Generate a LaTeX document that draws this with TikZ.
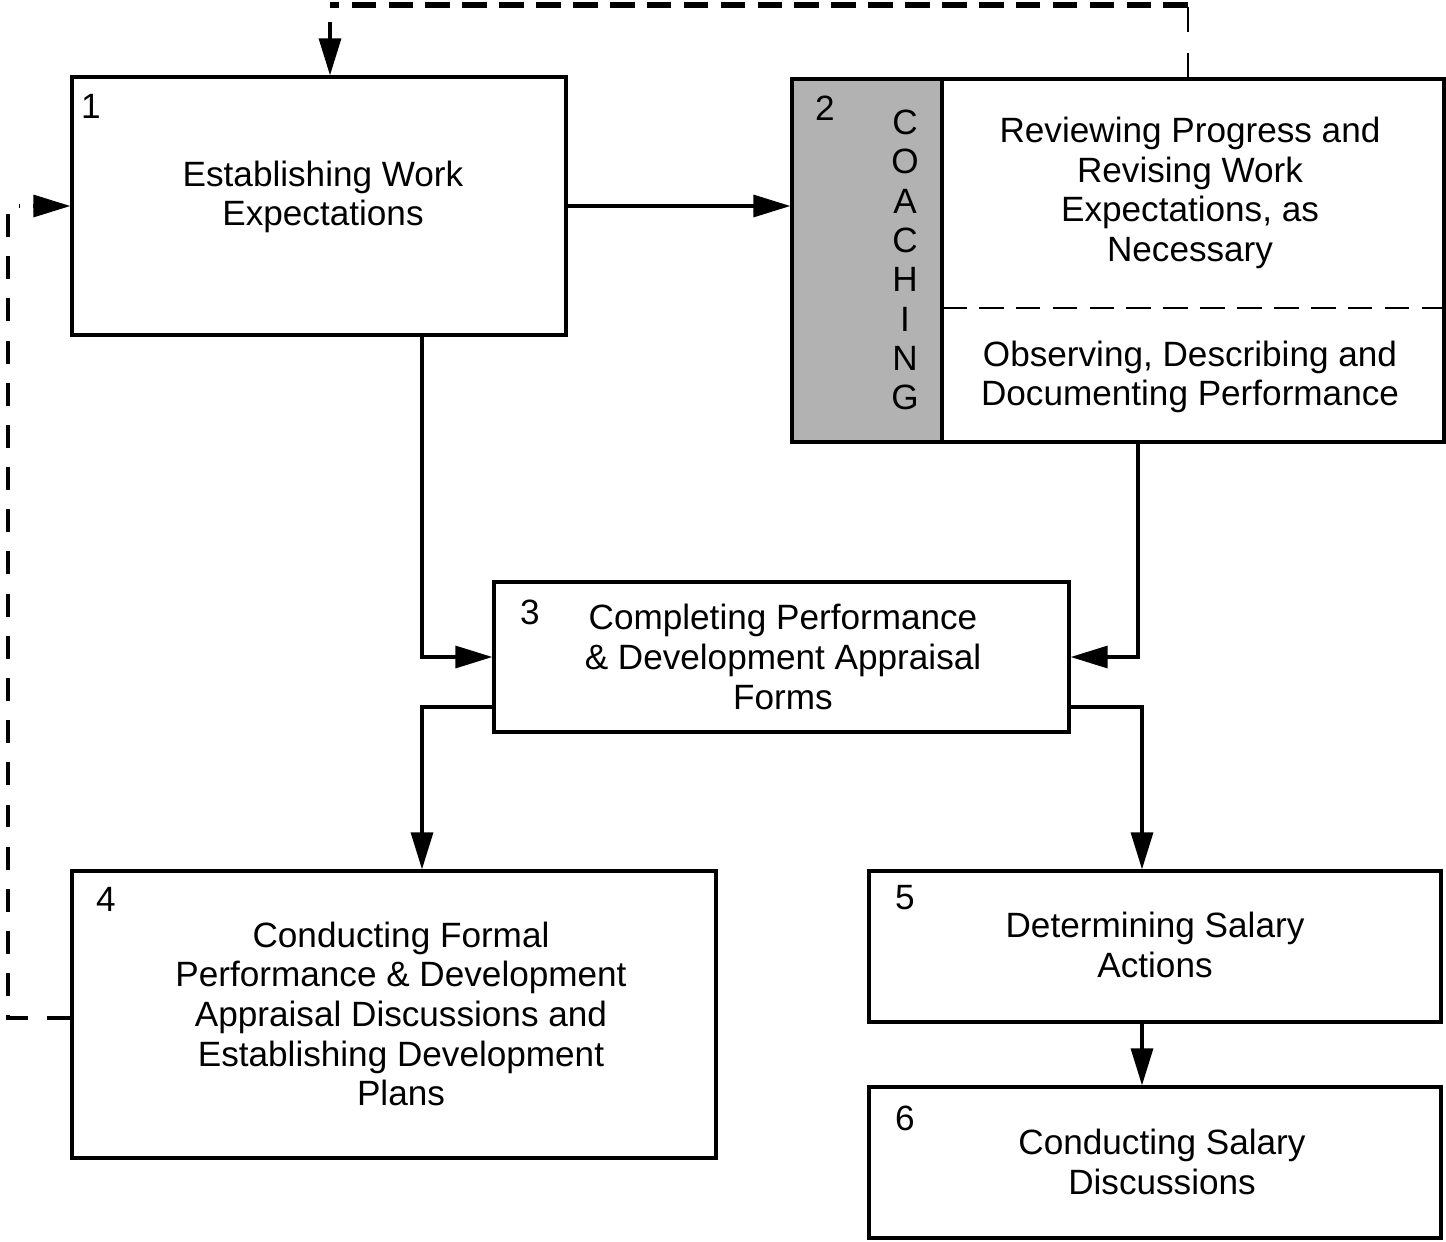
\documentclass[tikz,border=0pt]{standalone}
\usepackage{fontspec}
\setmainfont{Liberation Sans}
\usetikzlibrary{arrows.meta,fit}
\definecolor{coachgray}{RGB}{178,178,178}
\begin{document}
\begin{tikzpicture}[x=0.02cm,y=-0.02cm,
  box/.style={draw, line width=1.9pt, inner sep=0pt},
  lbl/.style={font=\fontsize{20}{22.6}\selectfont, align=center, inner sep=0pt},
  num/.style={font=\fontsize{20}{22.6}\selectfont, inner sep=0pt, anchor=center},
  tip/.style={-{Triangle[length=21pt,width=12.5pt]}},
  conn/.style={line width=1.8pt, tip},
  dashconn/.style={line width=1.9pt, dash pattern=on 13pt off 11pt},
  topdash/.style={line width=3.4pt, dash pattern=on 14pt off 7pt},
  thindash/.style={line width=1.6pt, dash pattern=on 14pt off 12pt},
  divdash/.style={line width=1.6pt, dash pattern=on 14pt off 7pt}]
\useasboundingbox (0,0) rectangle (1446,1241);

% helper coordinates
\coordinate (x1) at (422,0);
\coordinate (x2) at (1138,0);
\coordinate (x3) at (1142,0);
\coordinate (xl) at (8,0);
\coordinate (xe) at (20,0);
\coordinate (xt1) at (330,0);
\coordinate (xt2) at (1188,0);
\coordinate (y3b) at (0,707);
\coordinate (yl) at (0,1018);

% boxes
\node[box, fit={(72,77) (566,335)}] (b1) {};
\node[box, fill=coachgray, fit={(792,79) (942,442)}] (b2g) {};
\node[box, fit={(792,79) (1444,442)}] (b2) {};
\node[box, fit={(494,582) (1069,732)}] (b3) {};
\node[box, fit={(72,871) (716,1158)}] (b4) {};
\node[box, fit={(869,871) (1441,1022)}] (b5) {};
\node[box, fit={(869,1087) (1441,1238)}] (b6) {};

% divider in box 2
\coordinate (d1) at (942,308);
\draw[divdash] (d1) -- (d1 -| b2.east);

% numbers
\node[num] (n1) at (91,106) {1};
\node[num] (n2) at (825,108) {2};
\node[num] (n3) at (530,612) {3};
\node[num] (n4) at (106,899) {4};
\node[num] (n5) at (905,898) {5};
\node[num] (n6) at (905,1118) {6};

% texts
\node[lbl] (t1) at (323,197) {Establishing Work\\Expectations};
\node[lbl, font=\fontsize{20}{22.4}\selectfont] (tc) at (905,260) {C\\O\\A\\C\\H\\I\\N\\G};
\node[lbl] (t2a) at (1190,193) {Reviewing Progress and\\Revising Work\\Expectations, as\\Necessary};
\node[lbl] (t2b) at (1190,377) {Observing, Describing and\\Documenting Performance};
\node[lbl] (t3) at (783,657) {Completing Performance\\\& Development Appraisal\\Forms};
\node[lbl] (t4) at (401,1014) {Conducting Formal\\Performance \& Development\\Appraisal Discussions and\\Establishing Development\\Plans};
\node[lbl] (t5) at (1155,945) {Determining Salary\\Actions};
\node[lbl] (t6) at (1162,1162) {Conducting Salary\\Discussions};

% connectors
\draw[conn] (b1.east) -- (b1.east -| b2.west);
\draw[conn] (b1.south -| x1) |- (b3.west);
\draw[conn] (b2.south -| x2) |- (b3.east);
\draw[conn] (b3.west |- y3b) -| (x1 |- b4.north);
\draw[conn] (b3.east |- y3b) -| (x3 |- b5.north);
\draw[conn] (b5.south -| x3) -- (x3 |- b6.north);

% dashed feedback loop on the left
\draw[dashconn] (b4.west |- yl) -- (xl |- yl) -- (xl |- b1.west) -- (xe |- b1.west);
\draw[conn] ([xshift=-21pt]b1.west) -- (b1.west);

% dashed feedback loop on top
\coordinate (c1) at (1188,5);
\coordinate (c2) at (330,5);
\coordinate (c3) at (330,22);
\draw[thindash] (xt2 |- b2.north) -- (c1);
\draw[topdash] (c1) -- (c2);
\draw[conn] (c3) -- (xt1 |- b1.north);
\end{tikzpicture}
\end{document}
